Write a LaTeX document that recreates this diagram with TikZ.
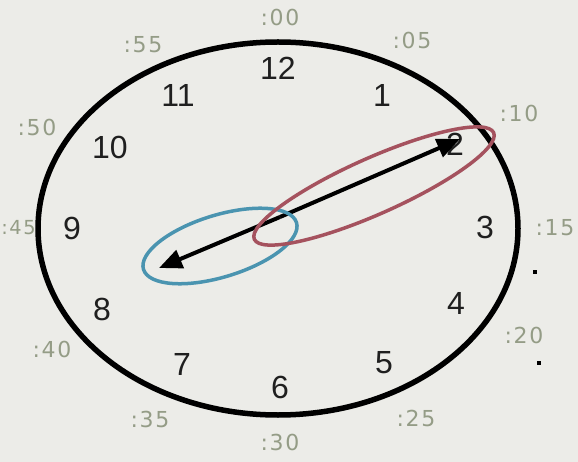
\documentclass[tikz,border=0pt]{standalone}
\usepackage{fontspec}
\setmainfont{Liberation Sans}
\newfontfamily\minfont[LetterSpace=8]{DejaVu Sans}
\usetikzlibrary{arrows.meta,shapes.geometric}
\definecolor{paper}{RGB}{236,236,232}
\definecolor{minute}{RGB}{148,156,134}
\definecolor{ringred}{RGB}{165,82,94}
\definecolor{ringblue}{RGB}{74,148,176}

\begin{document}
\begin{tikzpicture}[x=1pt,y=-1pt,
  hr/.style={font=\fontsize{32}{32}\selectfont,text=black!88,inner sep=0},
  mn/.style={font=\minfont\fontsize{22}{22}\selectfont,text=minute,inner sep=0},
  ring/.style={draw,ellipse,inner sep=0,line width=3.5pt},
  hand/.style={line width=4pt,-{Triangle[length=23pt,width=19pt]}},
  dot/.style={fill=black,inner sep=0,minimum size=4.5pt}]
\fill[paper] (0,0) rectangle (578,462);
\useasboundingbox (0,0) rectangle (578,462);
\node[draw,ellipse,line width=5.5pt,minimum width=480,minimum height=373] (face) at (278,228.5) {};
\node[hr] (h12) at (278,68) {12};
\node[hr] (h1) at (382,95) {1};
\node[hr] (h2) at (455,144) {2};
\node[hr] (h3) at (485,227) {3};
\node[hr] (h4) at (456,303) {4};
\node[hr] (h5) at (384,363) {5};
\node[hr] (h6) at (280,387) {6};
\node[hr] (h7) at (182,364) {7};
\node[hr] (h8) at (102,309) {8};
\node[hr] (h9) at (72,228) {9};
\node[hr] (h10) at (110,147) {10};
\node[hr] (h11) at (178,95) {11};
\node[mn] (m00) at (280,17) {:00};
\node[mn] (m05) at (412,40) {:05};
\node[mn] (m10) at (519,113) {:10};
\node[mn] (m15) at (555,228) {:15};
\node[mn] (m20) at (524,335) {:20};
\node[mn] (m25) at (416,418) {:25};
\node[mn] (m30) at (280,442) {:30};
\node[mn] (m35) at (150,419) {:35};
\node[mn] (m40) at (52,349) {:40};
\node[mn,scale=0.88] (m45) at (18.5,228) {:45};
\node[mn] (m50) at (37,127) {:50};
\node[mn] (m55) at (143,45) {:55};
\node[dot] (d1) at (535,272) {};
\node[dot] (d2) at (539,363) {};
\coordinate (pivot) at (280,217);
\coordinate (longtip) at (460,139);
\coordinate (shorttip) at (159,268);
\draw[hand] (pivot)--(longtip);\draw[hand] (pivot)--(shorttip);
\node[ring,ringblue,rotate=17,minimum width=160,minimum height=62] (hourring) at (220,246) {};
\node[ring,ringred,rotate=24,minimum width=262,minimum height=56] (minring) at (374,186) {};
\end{tikzpicture}
\end{document}
